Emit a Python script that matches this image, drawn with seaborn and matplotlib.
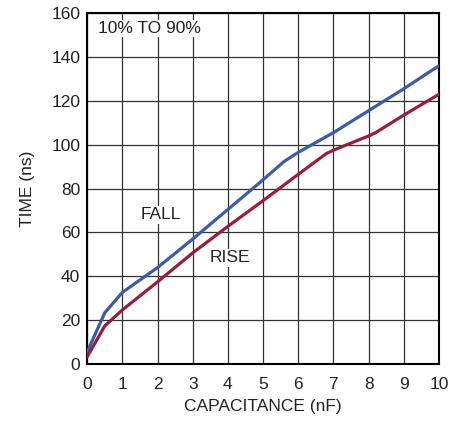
import matplotlib
matplotlib.use("Agg")
import matplotlib.pyplot as plt
import seaborn as sns
import pandas as pd

fall_x = [0, 0.5, 1, 2, 3, 4, 5, 5.6, 6, 7, 8, 9, 10]
fall_y = [5.5, 23.4, 32.7, 44, 57, 70.5, 84, 92.4, 96.5, 105.5, 115.5, 125.5, 136]
rise_x = [0, 0.5, 1, 2, 3, 4, 5, 6, 6.8, 7, 8, 8.2, 9, 10]
rise_y = [3.3, 17.4, 24.7, 37.5, 50.7, 62.8, 74.5, 86.5, 96, 97.5, 104, 105.5, 113.5, 123]

sns.set_theme(style="white")
plt.rcParams['font.family'] = ['Liberation Sans Narrow', 'Liberation Sans', 'DejaVu Sans']

df = pd.concat([
    pd.DataFrame({"cap": fall_x, "time": fall_y, "series": "FALL"}),
    pd.DataFrame({"cap": rise_x, "time": rise_y, "series": "RISE"}),
])

fs = 12.5
fig = plt.figure(figsize=(4.66, 4.21), dpi=100)
ax = fig.add_axes([0.187, 0.135, 0.755, 0.834])
sns.lineplot(data=df, x="cap", y="time", hue="series",
             palette={"FALL": "#3b5bab", "RISE": "#9c1c3c"},
             linewidth=2.3, legend=False, ax=ax, sort=False, estimator=None, zorder=3)

ax.set_xlim(0, 10)
ax.set_ylim(0, 160)
ax.set_xticks(range(0, 11))
ax.set_yticks(range(0, 161, 20))
ax.grid(True, color="#333333", linewidth=0.9)
ax.set_axisbelow(True)
ax.tick_params(axis="x", length=0, labelsize=fs, colors="#222222", pad=9)
ax.tick_params(axis="y", length=0, labelsize=fs, colors="#222222", pad=5)
for s in ax.spines.values():
    s.set_color("black")
    s.set_linewidth(1.5)
ax.set_xlabel("CAPACITANCE (nF)", fontsize=fs, color="#222222", labelpad=5)
ax.set_ylabel("TIME (ns)", fontsize=fs, color="#222222", labelpad=12)

bb = dict(facecolor="white", edgecolor="none", pad=1)
ax.text(0.3, 153, "10% TO 90%", fontsize=fs, color="#222222", va="center", ha="left", bbox=bb, zorder=2)
ax.text(2.1, 68, "FALL", fontsize=fs, color="#222222", va="center", ha="center", bbox=bb, zorder=2)
ax.text(4.05, 48.5, "RISE", fontsize=fs, color="#222222", va="center", ha="center", bbox=bb, zorder=2)

fig.savefig("out.png", dpi=100)
